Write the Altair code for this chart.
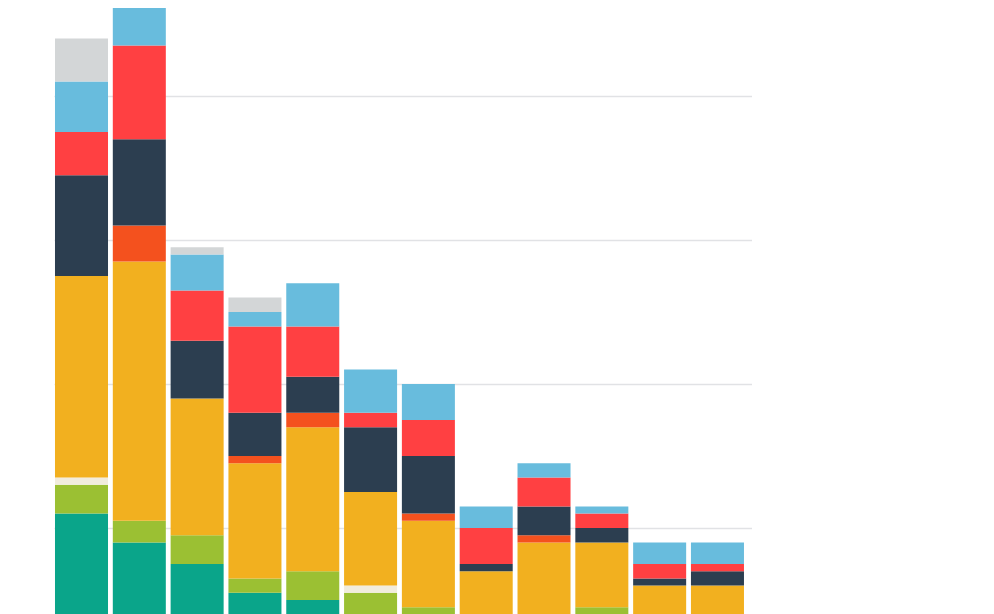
import altair as alt
import pandas as pd

categories = ["1", "2", "3", "4", "5", "6", "7", "8", "9", "10", "11", "12"]
series = ["Teal", "Green", "Cream", "Orange", "Vermilion", "Navy", "Red", "Sky", "Gray"]
colors = ["#0aa58a", "#9bc033", "#f1ecdd", "#f2b01f", "#f4511e", "#2c3e50", "#ff4042", "#68bcdd", "#d3d6d7"]

# values per series, one per category (bottom to top of stack)
teal      = [22, 18, 15, 11, 10, 0, 0, 0, 0, 0, 0, 0]
green     = [4, 3, 4, 2, 4, 11, 9, 0, 0, 9, 0, 0]
cream     = [1, 0, 0, 0, 0, 1, 0, 0, 0, 0, 0, 0]
orange    = [28, 36, 19, 16, 20, 13, 12, 14, 18, 9, 12, 12]
vermilion = [0, 5, 0, 1, 2, 0, 1, 0, 1, 0, 0, 0]
navy      = [14, 12, 8, 6, 5, 9, 8, 1, 4, 2, 1, 2]
red       = [6, 13, 7, 12, 7, 2, 5, 5, 4, 2, 2, 1]
sky       = [7, 8, 5, 2, 6, 6, 5, 3, 2, 1, 3, 3]
gray      = [6, 0, 1, 2, 0, 0, 0, 0, 0, 0, 0, 0]

grid_values = [20, 40, 60, 80]

all_series = [teal, green, cream, orange, vermilion, navy, red, sky, gray]
rows = []
for si, (name, vals) in enumerate(zip(series, all_series)):
    for ci, cat in enumerate(categories):
        if vals[ci] > 0:
            rows.append({"category": cat, "series": name, "value": vals[ci], "order": si})
df = pd.DataFrame(rows)

chart = (
    alt.Chart(df)
    .mark_bar(clip=False)
    .encode(
        x=alt.X("category:N", sort=categories, axis=None,
                scale=alt.Scale(paddingInner=0.083, paddingOuter=0.078, align=0.11)),
        y=alt.Y("value:Q", stack="zero",
                scale=alt.Scale(domain=[0, 664 / 7.2], nice=False, zero=True),
                axis=alt.Axis(values=grid_values, labels=False, ticks=False, domain=False,
                              title=None, grid=True, gridColor="#e1e2e5", gridWidth=1.5)),
        color=alt.Color("series:N", scale=alt.Scale(domain=series, range=colors), legend=None),
        order=alt.Order("order:Q"),
    )
    .properties(
        width=698,
        height=664,
        autosize=alt.AutoSizeParams(type="none"),
        padding={"left": 46, "top": 0, "right": 0, "bottom": 0},
        background="white",
    )
    .configure_view(stroke=None)
)

chart.save("out.html", embed_options={"renderer": "svg", "actions": False})
